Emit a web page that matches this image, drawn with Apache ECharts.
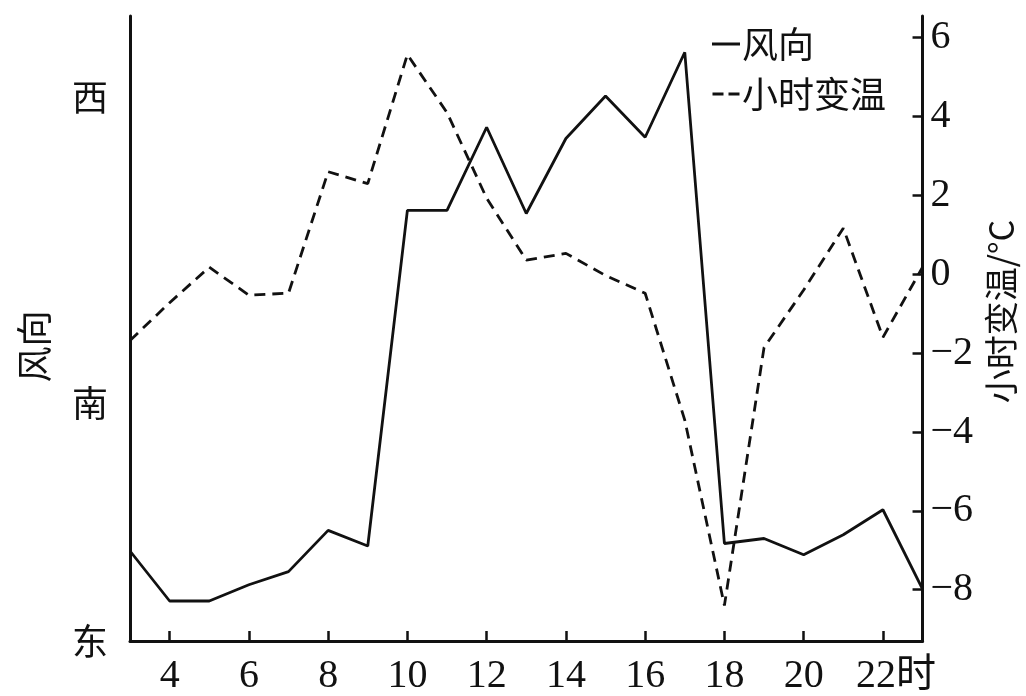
<!DOCTYPE html>
<html>
<head>
<meta charset="utf-8">
<script src="https://cdn.jsdelivr.net/npm/echarts@6/dist/echarts.min.js"></script>
<style>
  html, body { margin: 0; padding: 0; background: #fff; }
  #chart { width: 1026px; height: 696px; }
</style>
</head>
<body>
<div id="chart"></div>
<script>
// hours of the day
const hours = [3, 4, 5, 6, 7, 8, 9, 10, 11, 12, 13, 14, 15, 16, 17, 18, 19, 20, 21, 22, 23]
// wind direction, in left-axis units (东 = 0, 南 = 38, 西 = 87)
const windDir = [14.4, 6.4, 6.4, 9.0, 11.1, 17.7, 15.2, 68.9, 68.9, 82.2, 68.4, 80.4, 87.2, 80.6, 94.2, 15.6, 16.4, 13.8, 17.0, 21.0, 8.3]
// hourly temperature change, °C
const tempChange = [-1.68, -0.72, 0.18, -0.53, -0.48, 2.6, 2.3, 5.57, 4.1, 1.93, 0.36, 0.53, -0.03, -0.48, -3.7, -8.4, -1.86, -0.4, 1.17, -1.6, 0.18]

const hourTicks = [4, 6, 8, 10, 12, 14, 16, 18, 20, 22]
const windTickValues = [0, 38, 87]
const windTickLabels = ['东', '南', '西']
const tempTicks = [-8, -6, -4, -2, 0, 2, 4, 6]

const serif = '"Liberation Serif", "Noto Sans CJK SC", serif'
const cjk = '"Noto Sans CJK SC", "Liberation Serif", serif'

const chart = echarts.init(document.getElementById('chart'))

chart.setOption({
  animation: false,
  backgroundColor: '#fff',
  grid: { left: 130, right: 98, top: 16, bottom: 55 },
  legend: {
    orient: 'vertical',
    left: 707,
    top: 21,
    itemWidth: 28,
    itemHeight: 3,
    itemGap: 14,
    textStyle: { fontFamily: cjk, fontSize: 36, color: '#111', padding: [0, 0, 0, -3] },
    data: [
      { name: '风向', icon: 'path://M0,0h28v3h-28z' },
      { name: '小时变温', icon: 'path://M0,0h11v3h-11z M16,0h11v3h-11z' },
    ],
  },
  xAxis: {
    type: 'value',
    min: 3,
    max: 23,
    axisLine: { lineStyle: { color: '#111', width: 3 } },
    axisTick: {
      inside: true,
      length: 10,
      customValues: hourTicks,
      lineStyle: { color: '#111', width: 2.5 },
    },
    axisLabel: {
      customValues: hourTicks,
      margin: 15,
      fontFamily: serif,
      fontSize: 40,
      color: '#111',
      formatter: (v) => (v === 22 ? '{s|22时}' : String(v)),
      rich: { s: { fontFamily: serif, fontSize: 40, color: '#111', padding: [0, 0, 0, 26] } },
    },
    splitLine: { show: false },
  },
  yAxis: [
    {
      type: 'value',
      min: 0,
      max: 100,
      name: '风向',
      nameLocation: 'middle',
      nameRotate: 90,
      nameGap: 78,
      nameTextStyle: { fontFamily: cjk, fontSize: 36, color: '#111', padding: [0, 36, 0, 0] },
      axisLine: { show: true, lineStyle: { color: '#111', width: 3 } },
      axisTick: { show: false },
      axisLabel: {
        customValues: windTickValues,
        margin: 22,
        fontFamily: cjk,
        fontSize: 36,
        color: '#111',
        formatter: (v) => windTickLabels[windTickValues.indexOf(v)],
      },
      splitLine: { show: false },
    },
    {
      type: 'value',
      min: -9.3,
      max: 6.55,
      position: 'right',
      name: '小时变温/°C',
      nameLocation: 'middle',
      nameRotate: 90,
      nameGap: 58,
      nameTextStyle: { fontFamily: cjk, fontSize: 34, color: '#111', padding: [0, 0, 0, 34] },
      axisLine: { show: true, lineStyle: { color: '#111', width: 3 } },
      axisTick: {
        inside: true,
        length: 10,
        customValues: tempTicks,
        lineStyle: { color: '#111', width: 2.5 },
      },
      axisLabel: {
        customValues: tempTicks,
        margin: 8,
        fontFamily: serif,
        fontSize: 40,
        color: '#111',
        formatter: (v) => String(v).replace('-', '−'),
      },
      splitLine: { show: false },
    },
  ],
  series: [
    {
      name: '风向',
      type: 'line',
      yAxisIndex: 0,
      symbol: 'none',
      lineStyle: { color: '#111', width: 2.8, type: 'solid' },
      itemStyle: { color: '#111' },
      data: hours.map((h, i) => [h, windDir[i]]),
    },
    {
      name: '小时变温',
      type: 'line',
      yAxisIndex: 1,
      symbol: 'none',
      lineStyle: { color: '#111', width: 2.8, type: [11, 7] },
      itemStyle: { color: '#111' },
      data: hours.map((h, i) => [h, tempChange[i]]),
    },
  ],
})
</script>
</body>
</html>
